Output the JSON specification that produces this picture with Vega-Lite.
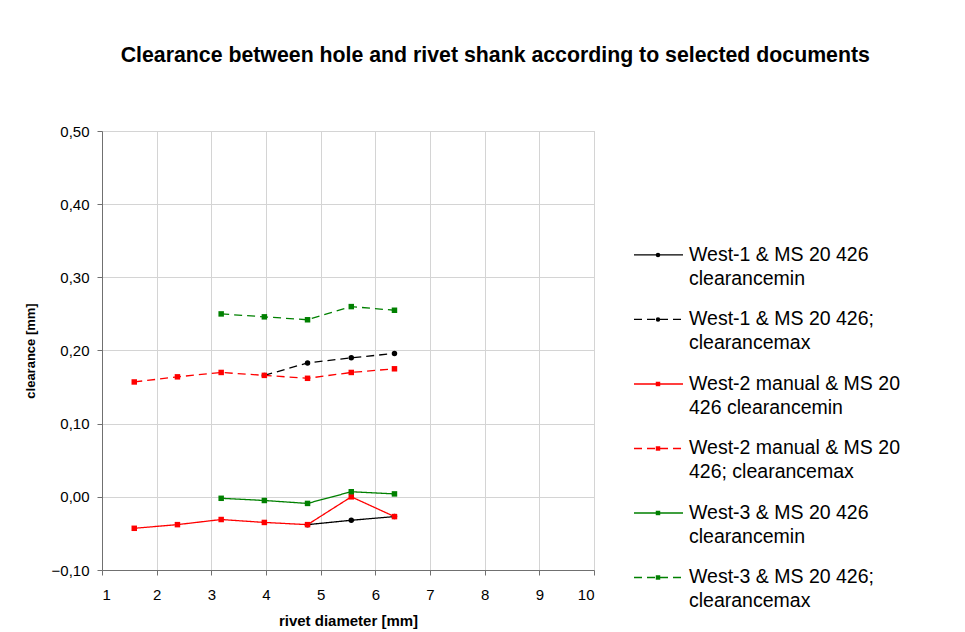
{
  "$schema": "https://vega.github.io/schema/vega-lite/v6.json",
  "background": "white",
  "padding": {"left": 23, "top": 45, "right": 0, "bottom": 0},
  "title": {"text": "Clearance between hole and rivet shank according to selected documents", "font": "Liberation Sans", "fontSize": 21.3, "fontWeight": "bold", "anchor": "middle", "offset": 57, "dx": 31, "color": "black"},
  "config": {
    "font": "Liberation Sans",
    "concat": {"spacing": 10},
    "axis": {"labelFont": "Liberation Sans", "titleFont": "Liberation Sans", "labelColor": "black", "titleColor": "black", "gridColor": "#d4d4d4", "domainColor": "#707070", "tickColor": "#707070", "tickSize": 5, "labelFontSize": 15, "titleFontSize": 13, "titleFontWeight": "bold"}
  },
  "datasets": {
    "pts": [
      {"s": "W1min", "d": 4.76, "c": -0.038},
      {"s": "W1min", "d": 5.56, "c": -0.032},
      {"s": "W1min", "d": 6.35, "c": -0.027},
      {"s": "W1max", "d": 3.97, "c": 0.166},
      {"s": "W1max", "d": 4.76, "c": 0.183},
      {"s": "W1max", "d": 5.56, "c": 0.190},
      {"s": "W1max", "d": 6.35, "c": 0.196},
      {"s": "W2min", "d": 1.59, "c": -0.043},
      {"s": "W2min", "d": 2.38, "c": -0.038},
      {"s": "W2min", "d": 3.18, "c": -0.031},
      {"s": "W2min", "d": 3.97, "c": -0.035},
      {"s": "W2min", "d": 4.76, "c": -0.038},
      {"s": "W2min", "d": 5.56, "c": 0.000},
      {"s": "W2min", "d": 6.35, "c": -0.027},
      {"s": "W2max", "d": 1.59, "c": 0.157},
      {"s": "W2max", "d": 2.38, "c": 0.164},
      {"s": "W2max", "d": 3.18, "c": 0.170},
      {"s": "W2max", "d": 3.97, "c": 0.166},
      {"s": "W2max", "d": 4.76, "c": 0.162},
      {"s": "W2max", "d": 5.56, "c": 0.170},
      {"s": "W2max", "d": 6.35, "c": 0.175},
      {"s": "W3min", "d": 3.18, "c": -0.002},
      {"s": "W3min", "d": 3.97, "c": -0.005},
      {"s": "W3min", "d": 4.76, "c": -0.009},
      {"s": "W3min", "d": 5.56, "c": 0.007},
      {"s": "W3min", "d": 6.35, "c": 0.004},
      {"s": "W3max", "d": 3.18, "c": 0.250},
      {"s": "W3max", "d": 3.97, "c": 0.246},
      {"s": "W3max", "d": 4.76, "c": 0.242},
      {"s": "W3max", "d": 5.56, "c": 0.260},
      {"s": "W3max", "d": 6.35, "c": 0.255}
    ],
    "leg": [
      {"s": "W1min", "o": 0, "a": 29, "b": 78, "m": 53, "t": 84, "l1": "West-1 & MS 20 426", "l2": "clearancemin"},
      {"s": "W1max", "o": 1, "a": 29, "b": 78, "m": 53, "t": 84, "l1": "West-1 & MS 20 426;", "l2": "clearancemax"},
      {"s": "W2min", "o": 2, "a": 29, "b": 78, "m": 53, "t": 84, "l1": "West-2 manual & MS 20", "l2": "426 clearancemin"},
      {"s": "W2max", "o": 3, "a": 29, "b": 78, "m": 53, "t": 84, "l1": "West-2 manual & MS 20", "l2": "426; clearancemax"},
      {"s": "W3min", "o": 4, "a": 29, "b": 78, "m": 53, "t": 84, "l1": "West-3 & MS 20 426", "l2": "clearancemin"},
      {"s": "W3max", "o": 5, "a": 29, "b": 78, "m": 53, "t": 84, "l1": "West-3 & MS 20 426;", "l2": "clearancemax"}
    ]
  },
  "hconcat": [
    {
      "width": 492,
      "height": 439,
      "view": {"stroke": "#c8c8c8"},
      "data": {"name": "pts"},
      "encoding": {
        "x": {"field": "d", "type": "quantitative", "scale": {"domain": [1, 10], "nice": false}, "axis": {"values": [1,2,3,4,5,6,7,8,9,10], "title": "rivet diameter [mm]", "titleFontSize": 15, "labelPadding": 12, "titlePadding": 11}},
        "y": {"field": "c", "type": "quantitative", "scale": {"domain": [-0.1, 0.5], "nice": false, "zero": false}, "axis": {"values": [-0.1,0,0.1,0.2,0.3,0.4,0.5], "labelExpr": "replace(format(datum.value, '.2f'), '.', ',')", "title": "clearance [mm]", "labelPadding": 8, "titlePadding": 14}},
        "color": {"field": "s", "type": "nominal", "scale": {"domain": ["W1min","W1max","W2min","W2max","W3min","W3max"], "range": ["#000000","#000000","#ff0000","#ff0000","#008000","#008000"]}, "legend": null},
        "strokeDash": {"field": "s", "type": "nominal", "scale": {"domain": ["W1min","W1max","W2min","W2max","W3min","W3max"], "range": [[1,0],[8,5],[1,0],[8,5],[1,0],[8,5]]}, "legend": null},
        "shape": {"field": "s", "type": "nominal", "scale": {"domain": ["W1min","W1max","W2min","W2max","W3min","W3max"], "range": ["circle","circle","square","square","square","square"]}, "legend": null},
        "order": {"field": "d", "type": "quantitative"}
      },
      "layer": [
        {"mark": {"type": "line", "strokeWidth": 1.3}, "encoding": {"shape": null}},
        {"mark": {"type": "point", "filled": true, "opacity": 1, "size": 30}, "encoding": {"strokeDash": null}}
      ]
    },
    {
      "width": 300,
      "height": 439,
      "view": {"stroke": null},
      "data": {"name": "leg"},
      "encoding": {
        "y": {"field": "o", "type": "quantitative", "scale": {"domain": [-1.922, 4.884], "reverse": true, "nice": false, "zero": false}, "axis": null},
        "color": {"field": "s", "type": "nominal", "scale": {"domain": ["W1min","W1max","W2min","W2max","W3min","W3max"], "range": ["#000000","#000000","#ff0000","#ff0000","#008000","#008000"]}, "legend": null}
      },
      "layer": [
        {"mark": {"type": "rule", "strokeWidth": 1.3},
         "encoding": {
           "x": {"field": "a", "type": "quantitative", "scale": {"domain": [0, 300], "nice": false, "zero": false}, "axis": null},
           "x2": {"field": "b"},
           "strokeDash": {"field": "s", "type": "nominal", "scale": {"domain": ["W1min","W1max","W2min","W2max","W3min","W3max"], "range": [[1,0],[8,5],[1,0],[8,5],[1,0],[8,5]]}, "legend": null}
         }},
        {"mark": {"type": "point", "filled": true, "opacity": 1, "size": 20},
         "encoding": {
           "x": {"field": "m", "type": "quantitative", "axis": null},
           "shape": {"field": "s", "type": "nominal", "scale": {"domain": ["W1min","W1max","W2min","W2max","W3min","W3max"], "range": ["circle","circle","square","square","square","square"]}, "legend": null}
         }},
        {"mark": {"type": "text", "align": "left", "baseline": "middle", "fontSize": 19.5, "font": "Liberation Sans", "color": "black"},
         "encoding": {"x": {"field": "t", "type": "quantitative", "axis": null}, "text": {"field": "l1"}, "color": {"value": "black"}}},
        {"mark": {"type": "text", "align": "left", "baseline": "middle", "fontSize": 19.5, "font": "Liberation Sans", "color": "black", "dy": 24},
         "encoding": {"x": {"field": "t", "type": "quantitative", "axis": null}, "text": {"field": "l2"}, "color": {"value": "black"}}}
      ]
    }
  ]
}
